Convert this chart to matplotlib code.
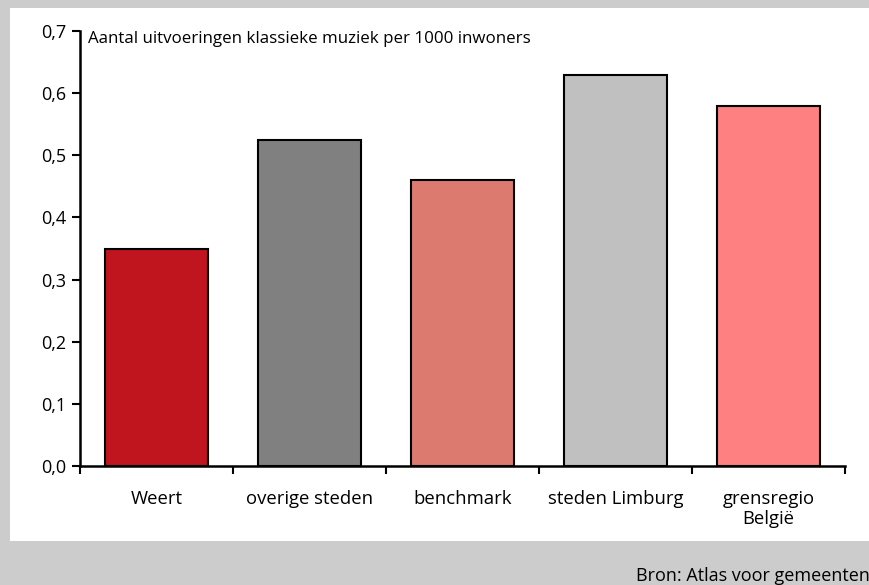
import matplotlib.pyplot as plt
from matplotlib.patches import Rectangle
from matplotlib.ticker import MultipleLocator, FuncFormatter

plt.rcParams['font.family'] = ['Open Sans', 'DejaVu Sans']

categories = ['Weert', 'overige steden', 'benchmark', 'steden Limburg', 'grensregio\nBelgië']
values = [0.35, 0.525, 0.46, 0.63, 0.58]
colors = ['#c0141e', '#808080', '#dc7a70', '#c0c0c0', '#ff8080']

fig = plt.figure(figsize=(8.7, 5.85), dpi=100)
fig.patch.set_facecolor('#cccccc')

# white panel
fig.patches.append(Rectangle((10 / 870, 44 / 585), 1, 1 - 52 / 585,
                             transform=fig.transFigure, facecolor='white',
                             edgecolor='none', zorder=-1))

ax = fig.add_axes([80 / 870, 1 - 466 / 585, 765 / 870, 435 / 585])
ax.set_facecolor('none')
ax.set_zorder(2)

x = range(len(categories))
ax.bar(x, values, width=0.667, color=colors, edgecolor='black', linewidth=1.5)

ax.set_xlim(-0.5, len(categories) - 0.5)
ax.set_ylim(0, 0.7)
ax.yaxis.set_major_locator(MultipleLocator(0.1))
ax.yaxis.set_major_formatter(FuncFormatter(lambda v, p: f'{v:.1f}'.replace('.', ',')))

ax.set_xticks([i + 0.5 for i in range(-1, len(categories))])
ax.set_xticklabels([])
ax.set_xticks(list(x), minor=True)
ax.set_xticklabels(categories, minor=True, linespacing=1.15)
ax.tick_params(axis='x', which='minor', length=0, pad=17, labelsize=13.3)
ax.tick_params(axis='x', which='major', length=6, width=1.5, direction='out')
ax.tick_params(axis='y', length=6, width=1.5, direction='out', labelsize=13, pad=4)

for s in ['top', 'right']:
    ax.spines[s].set_visible(False)
for s in ['left', 'bottom']:
    ax.spines[s].set_linewidth(1.8)

ax.text(0.011, 0.982, 'Aantal uitvoeringen klassieke muziek per 1000 inwoners',
        transform=ax.transAxes, fontsize=12.2, va='center', ha='left')

fig.text(636 / 870, 1 - 576 / 585, 'Bron: Atlas voor gemeenten',
         fontsize=13, ha='left', va='center')

fig.savefig('out.png', dpi=100, facecolor=fig.get_facecolor())
